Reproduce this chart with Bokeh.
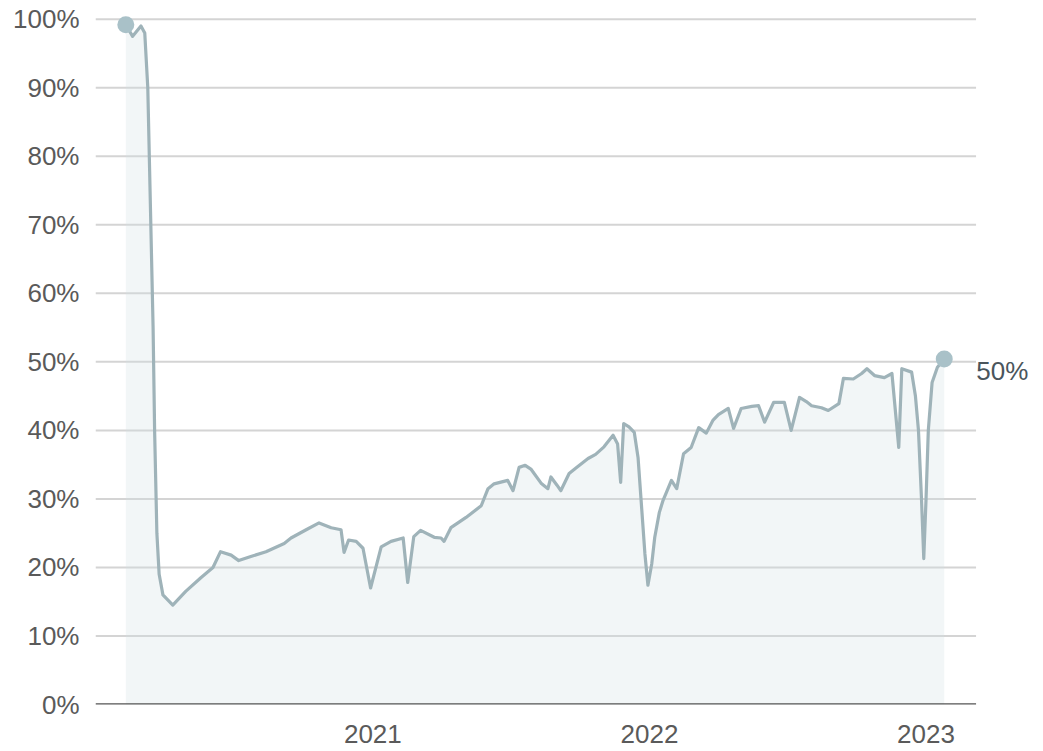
import pandas as pd
from bokeh.plotting import figure
from bokeh.models import Range1d, FixedTicker, PrintfTickFormatter, DatetimeTickFormatter, Label, ColumnDataSource
from bokeh.embed import file_html
from bokeh.resources import INLINE

# ---- data ----
dates_2020 = ["2020-02-10", "2020-02-19", "2020-03-01", "2020-03-06", "2020-03-10", "2020-03-14",
              "2020-03-17", "2020-03-19", "2020-03-22", "2020-03-25", "2020-03-30", "2020-04-12",
              "2020-04-29", "2020-05-19", "2020-06-04", "2020-06-14", "2020-06-28", "2020-07-08",
              "2020-07-24", "2020-08-13", "2020-09-06", "2020-09-15", "2020-10-05", "2020-10-22",
              "2020-11-07", "2020-11-20", "2020-11-24", "2020-11-30", "2020-12-10", "2020-12-19",
              "2020-12-29"]
share_2020 = [99.2, 97.5, 99.0, 98.0, 90.0, 70.0,
              55.0, 40.0, 25.0, 19.0, 16.0, 14.5,
              16.5, 18.5, 20.0, 22.3, 21.8, 21.0,
              21.6, 22.3, 23.5, 24.3, 25.5, 26.5,
              25.8, 25.5, 22.2, 24.0, 23.8, 22.8,
              17.0]

dates_2021 = ["2021-01-12", "2021-01-25", "2021-02-10", "2021-02-16", "2021-02-24", "2021-03-05",
              "2021-03-23", "2021-04-01", "2021-04-05", "2021-04-14", "2021-05-04", "2021-05-24",
              "2021-06-02", "2021-06-10", "2021-06-28", "2021-07-05", "2021-07-13", "2021-07-21",
              "2021-07-29", "2021-08-11", "2021-08-20", "2021-08-24", "2021-09-01", "2021-09-06",
              "2021-09-17", "2021-09-26", "2021-10-12", "2021-10-22", "2021-11-02", "2021-11-14",
              "2021-11-20", "2021-11-24", "2021-11-28", "2021-12-05", "2021-12-12", "2021-12-17",
              "2021-12-21", "2021-12-26", "2021-12-30"]
share_2021 = [23.0, 23.8, 24.3, 17.8, 24.5, 25.4,
              24.4, 24.3, 23.8, 25.8, 27.3, 29.0,
              31.5, 32.2, 32.7, 31.2, 34.6, 34.9,
              34.3, 32.3, 31.5, 33.2, 32.0, 31.2,
              33.7, 34.5, 35.9, 36.5, 37.6, 39.3,
              38.0, 32.4, 41.0, 40.5, 39.7, 36.0,
              29.8, 22.0, 17.4]

dates_2022 = ["2022-01-04", "2022-01-08", "2022-01-14", "2022-01-19", "2022-01-30", "2022-02-06",
              "2022-02-15", "2022-02-25", "2022-03-07", "2022-03-17", "2022-03-26", "2022-04-02",
              "2022-04-15", "2022-04-22", "2022-05-02", "2022-05-16", "2022-05-25", "2022-06-02",
              "2022-06-14", "2022-06-28", "2022-07-07", "2022-07-18", "2022-07-27", "2022-08-03",
              "2022-08-16", "2022-08-25", "2022-09-08", "2022-09-14", "2022-09-27", "2022-10-08",
              "2022-10-15", "2022-10-25", "2022-11-07", "2022-11-17", "2022-11-26", "2022-11-30",
              "2022-12-13", "2022-12-18", "2022-12-22", "2022-12-26", "2022-12-29"]
share_2022 = [20.5, 24.4, 28.0, 29.8, 32.7, 31.5,
              36.6, 37.5, 40.4, 39.6, 41.5, 42.3,
              43.2, 40.3, 43.2, 43.5, 43.6, 41.2,
              44.1, 44.1, 40.0, 44.8, 44.2, 43.6,
              43.3, 42.9, 43.9, 47.6, 47.5, 48.3,
              49.0, 48.0, 47.7, 48.3, 37.5, 49.0,
              48.5, 45.0, 40.0, 30.0, 21.3]

dates_2023 = ["2023-01-01", "2023-01-04", "2023-01-09", "2023-01-16", "2023-01-25"]
share_2023 = [30.0, 40.0, 47.0, 49.2, 50.4]

y_ticks = [0, 10, 20, 30, 40, 50, 60, 70, 80, 90, 100]
year_ticks = ["2021", "2022", "2023"]

dates = pd.to_datetime(dates_2020 + dates_2021 + dates_2022 + dates_2023)
share = share_2020 + share_2021 + share_2022 + share_2023
assert len(dates) == len(share)


def ms(ts):
    return pd.Timestamp(ts).value / 1e6


# ---- figure ----
FONT = "Liberation Sans"
LINE = "#9fb3b9"
DOT = "#a9c1c8"
X_START = ms("2020-01-01")
GRID_END = ms("2023-03-08")
X_END = ms("2023-06-05")

p = figure(width=1043, height=751, output_backend="svg", toolbar_location=None,
           x_axis_type="datetime",
           x_range=Range1d(X_START, X_END),
           y_range=Range1d(0, 102),
           min_border_left=95, min_border_right=0, min_border_top=5, min_border_bottom=47)
p.outline_line_color = None
p.background_fill_color = "white"
p.border_fill_color = "white"

# horizontal gridlines (drawn as segments so they stop before the end label)
p.segment(x0=[X_START] * (len(y_ticks) - 1), x1=[GRID_END] * (len(y_ticks) - 1),
          y0=y_ticks[1:], y1=y_ticks[1:], line_color="#d4d4d4", line_width=2)

src = ColumnDataSource(dict(x=dates, y=share, base=[0] * len(share)))
p.varea(x="x", y1="base", y2="y", source=src, fill_color="#cfdee3", fill_alpha=0.28)

# baseline
p.segment(x0=[X_START], x1=[GRID_END], y0=[0], y1=[0], line_color="#555555", line_width=2.5)

p.line(x="x", y="y", source=src, line_color=LINE, line_width=3.2, line_join="round")

ends = ColumnDataSource(dict(x=[dates[0], dates[-1]], y=[share[0], share[-1]]))
p.scatter(x="x", y="y", source=ends, size=17, fill_color=DOT, line_color=None)

p.add_layout(Label(x=ms(dates[-1]), y=share[-1], text=f"{int(share[-1])}%", x_offset=32, y_offset=-12,
                   text_baseline="middle", text_align="left", text_font=FONT,
                   text_font_size="26px", text_color="#4a555c"))

# y axis
p.yaxis.ticker = FixedTicker(ticks=y_ticks)
p.yaxis.formatter = PrintfTickFormatter(format="%d%%")
p.yaxis.axis_line_color = None
p.yaxis.major_tick_line_color = None
p.yaxis.minor_tick_line_color = None
p.yaxis.major_label_standoff = 10
p.yaxis.major_label_text_font = FONT
p.yaxis.major_label_text_font_size = "26px"
p.yaxis.major_label_text_color = "#5a5a5a"

# x axis
p.xaxis.ticker = FixedTicker(ticks=[ms(f"{y}-01-01") for y in year_ticks])
p.xaxis.formatter = DatetimeTickFormatter(years="%Y", months="%Y", days="%Y")
p.xaxis.axis_line_color = None
p.xaxis.major_tick_line_color = None
p.xaxis.minor_tick_line_color = None
p.xaxis.major_label_standoff = 14
p.xaxis.major_label_text_font = FONT
p.xaxis.major_label_text_font_size = "26px"
p.xaxis.major_label_text_color = "#5a5a5a"

p.xgrid.grid_line_color = None
p.ygrid.grid_line_color = None

open("out.html", "w").write(file_html(p, INLINE))
